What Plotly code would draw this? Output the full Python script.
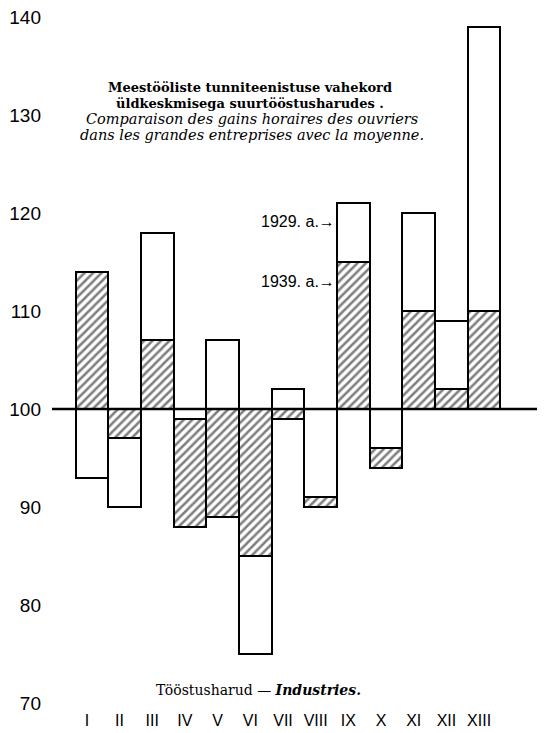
import plotly.graph_objects as go

industries = ["I", "II", "III", "IV", "V", "VI", "VII", "VIII", "IX", "X", "XI", "XII", "XIII"]
val_1929 = [93, 90, 118, 99, 107, 75, 102, 91, 121, 96, 120, 109, 139]
val_1939 = [114, 97, 107, 88, 89, 85, 99, 90, 115, 94, 110, 102, 110]
y_ticks = [70, 80, 90, 100, 110, 120, 130, 140]
base_value = 100

# Draw the bar farther from 100 first, then the nearer one on top
far_vals, far_pat, near_vals, near_pat = [], [], [], []
for a, b in zip(val_1929, val_1939):
    if abs(a - base_value) >= abs(b - base_value):
        far_vals.append(a); far_pat.append("")
        near_vals.append(b); near_pat.append("/")
    else:
        far_vals.append(b); far_pat.append("/")
        near_vals.append(a); near_pat.append("")

fig = go.Figure()
for vals, pats in [(far_vals, far_pat), (near_vals, near_pat)]:
    fig.add_trace(go.Bar(
        x=industries,
        y=[v - base_value for v in vals],
        base=base_value,
        marker=dict(
            color="white",
            line=dict(color="black", width=2),
            pattern=dict(shape=pats, fgcolor="black", bgcolor="white",
                         size=6, solidity=0.42, fillmode="overlay"),
        ),
        showlegend=False,
        hoverinfo="skip",
    ))

fig.add_shape(type="line", xref="paper", yref="y", x0=0, x1=1,
              y0=base_value, y1=base_value,
              line=dict(color="black", width=2.5), layer="above")

serif = "DejaVu Serif"
# positions given in page pixels of the reference (plot area spans x 52..540, y 17..703)
ann = [
    dict(text="<b>Meestööliste tunniteenistuse vahekord</b>", x=250, y=88, size=13),
    dict(text="<b>üldkeskmisega suurtööstusharudes .</b>", x=250, y=103, size=13),
    dict(text="<i>Comparaison des gains horaires des ouvriers</i>", x=252, y=119, size=14.5),
    dict(text="<i>dans les grandes entreprises avec la moyenne.</i>", x=252, y=135, size=14.5),
    dict(text="Tööstusharud — <b><i>Industries.</i></b>", x=258, y=690, size=14),
]
for a in ann:
    fig.add_annotation(text=a["text"], xref="paper", yref="paper",
                       x=(a["x"] - 52) / (540 - 52), y=1 - (a["y"] - 17) / (703 - 17),
                       xanchor="center", yanchor="middle", showarrow=False,
                       font=dict(family=serif, size=a["size"], color="black"))

for txt, yv in [("1929. a.→", 119.1), ("1939. a.→", 113.0)]:
    fig.add_annotation(text=txt, x=7.5, y=yv, xref="x", yref="y",
                       xanchor="right", yanchor="middle", showarrow=False,
                       font=dict(family="Liberation Sans", size=16, color="black"))

# page body adds an 8px offset; margins compensate
fig.update_layout(
    width=545, height=733,
    margin=dict(l=44, r=13, t=9, b=38, autoexpand=False),
    paper_bgcolor="white", plot_bgcolor="white",
    barmode="overlay", bargap=0,
    xaxis=dict(range=[-1.22, 13.71], showgrid=False, zeroline=False, showline=False,
               ticks="", automargin=False, ticklabeloverflow="allow",
               tickfont=dict(family="Liberation Sans", size=16, color="black"),
               ticklabelshift=-5, ticklabelstandoff=6),
    yaxis=dict(range=[70, 140], tickvals=y_ticks, showgrid=False, zeroline=False,
               showline=False, ticks="", automargin=False, ticklabeloverflow="allow",
               tickfont=dict(family="Liberation Sans", size=19, color="black"),
               ticklabelstandoff=10),
)

fig.write_html("out.html")
